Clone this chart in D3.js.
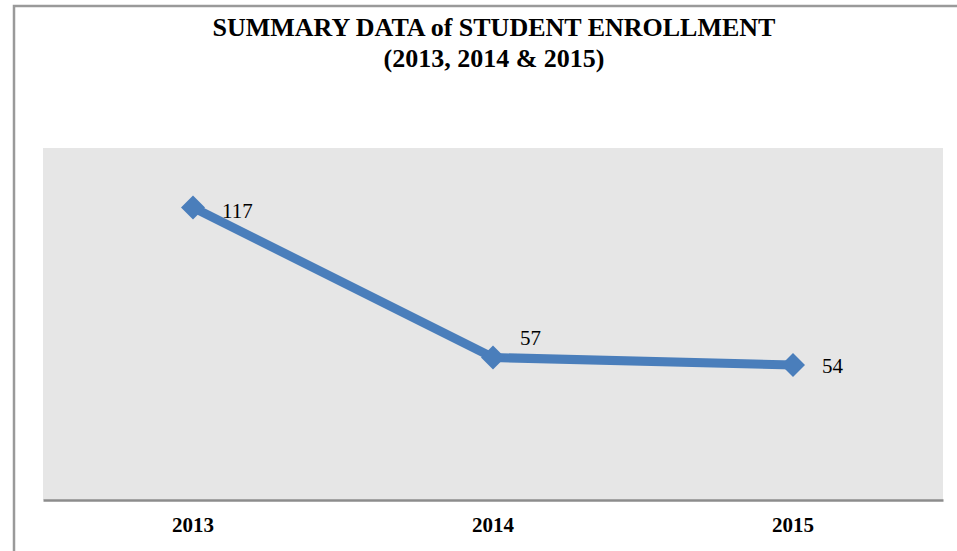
<!DOCTYPE html>
<html>
<head>
<meta charset="utf-8">
<script src="https://cdn.jsdelivr.net/npm/d3@7"></script>
<style>
  body { margin: 0; background: #fff; }
</style>
</head>
<body>
<div id="chart"></div>
<script>
const years = ["2013", "2014", "2015"];
const enrollment = [117, 57, 54];
const titleLines = ["SUMMARY DATA of STUDENT ENROLLMENT", "(2013, 2014 & 2015)"];

const width = 957;
const height = 551;
const marginTop = 150;
const marginRight = 12;
const marginBottom = 51;
const marginLeft = 43;

const svg = d3.create("svg")
  .attr("width", width)
  .attr("height", height)
  .style("font-family", "'Liberation Serif', 'Times New Roman', serif");

// outer chart border (cropped on right and bottom)
svg.append("path")
  .attr("d", `M14,${height} L14,6 L${width},6`)
  .attr("fill", "none")
  .attr("stroke", "#9a9a9a")
  .attr("stroke-width", 2.5);

// title
svg.append("g")
  .selectAll("text")
  .data(titleLines)
  .join("text")
  .attr("x", 494)
  .attr("y", (d, i) => 36 + i * 31)
  .attr("text-anchor", "middle")
  .attr("font-size", 26)
  .attr("font-weight", "bold")
  .text(d => d);

const x = d3.scaleBand()
  .domain(years)
  .range([marginLeft, width - marginRight - 2]);

const y = d3.scaleLinear()
  .domain([0, 140])
  .range([height - marginBottom, marginTop]);

// plot area
svg.append("rect")
  .attr("x", marginLeft)
  .attr("y", y(140) - 2)
  .attr("width", x.range()[1] - marginLeft)
  .attr("height", y(0) - y(140) + 2)
  .attr("fill", "#e6e6e6");

// x axis
const xAxis = svg.append("g")
  .attr("transform", `translate(0,${y(0)})`)
  .call(d3.axisBottom(x).tickSize(0).tickPadding(17));
xAxis.select(".domain").attr("stroke", "#8c8c8c").attr("stroke-width", 2.5);
xAxis.selectAll("text")
  .attr("font-family", "'Liberation Serif', 'Times New Roman', serif")
  .attr("font-size", 21)
  .attr("font-weight", "bold")
  .attr("fill", "#000");

const cx = d => x(d) + x.bandwidth() / 2;
const points = years.map((d, i) => ({ year: d, value: enrollment[i] }));

// line
svg.append("path")
  .datum(points)
  .attr("fill", "none")
  .attr("stroke", "#4a7ebb")
  .attr("stroke-width", 9)
  .attr("stroke-linejoin", "round")
  .attr("d", d3.line().x(d => cx(d.year)).y(d => y(d.value)));

// diamond markers
svg.append("g")
  .selectAll("path")
  .data(points)
  .join("path")
  .attr("transform", d => `translate(${cx(d.year)},${y(d.value)}) rotate(45)`)
  .attr("d", "M-8.5,-8.5 h17 v17 h-17 Z")
  .attr("fill", "#4a7ebb");

// data labels
const labelOffsets = [[29, 10], [27, -13], [29, 8]];
svg.append("g")
  .selectAll("text")
  .data(points)
  .join("text")
  .attr("x", (d, i) => cx(d.year) + labelOffsets[i][0])
  .attr("y", (d, i) => y(d.value) + labelOffsets[i][1])
  .attr("font-size", 21)
  .attr("fill", "#000")
  .text(d => d.value);

document.getElementById("chart").appendChild(svg.node());
</script>
</body>
</html>
